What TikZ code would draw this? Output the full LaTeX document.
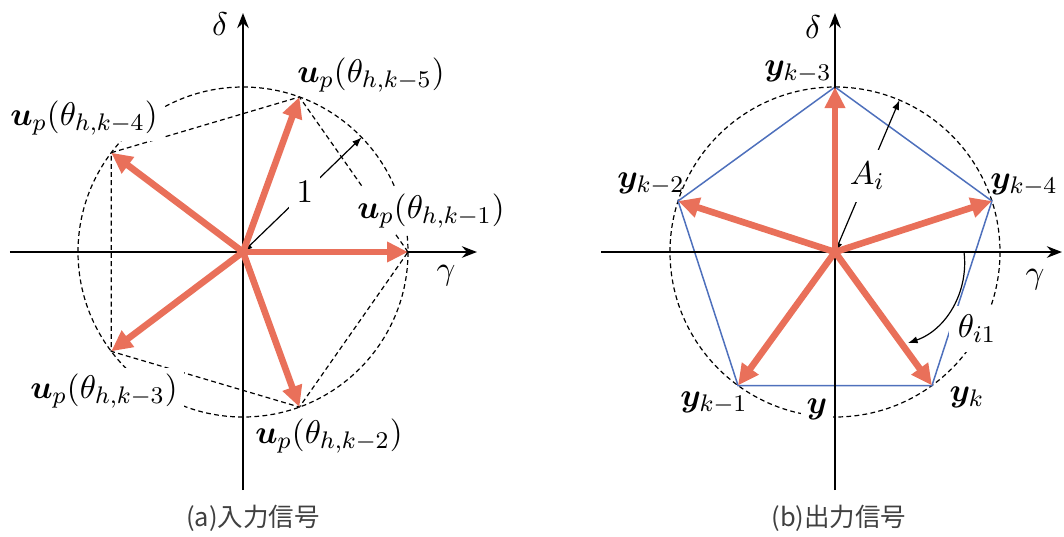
\documentclass[tikz,border=0pt]{standalone}
\usepackage{fontspec}
\usepackage{amsmath}
\usepackage{bm}
\usetikzlibrary{arrows.meta,calc}
\newfontfamily\cjk{Noto Sans CJK JP}
\definecolor{coral}{RGB}{233,112,90}
\definecolor{pentblue}{RGB}{78,112,188}
\tikzset{
  axis/.style={line width=0.9pt,-{Stealth[length=5pt,width=3.8pt]}},
  vec/.style={coral,line width=2.2pt,-{Triangle[length=7pt,width=6.5pt]}},
  dashcirc/.style={line width=0.4pt,dash pattern=on 1.6pt off 1.1pt},
  dim/.style={line width=0.4pt,{Latex[length=3.2pt,width=2.4pt]}-{Latex[length=3.2pt,width=2.4pt]}},
  pent/.style={pentblue,line width=0.5pt},
  lbl/.style={font=\fontsize{11}{13}\selectfont,inner sep=1pt},
  mask/.style={fill=white,inner sep=2pt},
  captext/.style={font=\cjk\fontsize{8.5}{10}\selectfont,text=black!75}
}
\begin{document}
\begin{tikzpicture}[x=0.33333pt,y=-0.33333pt]
\useasboundingbox (0,0) rectangle (1064,536);
\def\R{165}
% ---------------- left panel ----------------
\coordinate (O1) at (243,252);
\coordinate (a1) at ($(O1)+(0:\R)$);
\coordinate (a5) at ($(O1)+(-70:\R)$);
\coordinate (a4) at ($(O1)+(-143:\R)$);
\coordinate (a3) at ($(O1)+(-217:\R)$);
\coordinate (a2) at ($(O1)+(-290:\R)$);
\coordinate (r1) at ($(O1)+(-44:\R)$);
\coordinate (xl0) at (10,252);
\coordinate (xl1) at (477,252);
\coordinate (yl0) at (243,490);
\coordinate (yl1) at (243,13);

\draw[dashcirc] (O1) circle[radius=\R];
\draw[dashcirc] (a1) -- (a5) -- (a4) -- (a3) -- (a2) -- cycle;

\node[lbl,mask] (l4) at (84,118) {$\bm{u}_p(\theta_{h,k-4})$};
\node[lbl,mask] (l1) at (431,211) {$\bm{u}_p(\theta_{h,k-1})$};
\node[lbl,mask] (l3) at (104,391) {$\bm{u}_p(\theta_{h,k-3})$};

\draw[axis] (xl0) -- (xl1);
\draw[axis] (yl0) -- (yl1);

\draw[dim] (O1) -- (r1) node[lbl,fill=white,inner sep=2.5pt,pos=0.52] (one) {$1$};

\foreach \p in {a1,a2,a3,a4,a5} \draw[vec] (O1) -- (\p);

\node[lbl] (l5) at (371,75) {$\bm{u}_p(\theta_{h,k-5})$};
\node[lbl] (l2) at (329,436) {$\bm{u}_p(\theta_{h,k-2})$};
\node[lbl] (d1) at (220,24) {$\delta$};
\node[lbl] (g1) at (446,276) {$\gamma$};
\node[captext] (capa) at (253,518) {(a)入力信号};

% ---------------- right panel ----------------
\coordinate (O2) at (835,252);
\coordinate (b3) at ($(O2)+(-90:\R)$);
\coordinate (b4) at ($(O2)+(-18:\R)$);
\coordinate (b2) at ($(O2)+(-162:\R)$);
\coordinate (b1) at ($(O2)+(-234:\R)$);
\coordinate (b0) at ($(O2)+(-306:\R)$);
\coordinate (r2) at ($(O2)+(-67:\R)$);
\coordinate (xr0) at (601,252);
\coordinate (xr1) at (1062,252);
\coordinate (yr0) at (835,490);
\coordinate (yr1) at (835,13);
\coordinate (t0) at (964,252);
\coordinate (t1) at (969,292);
\coordinate (t2) at (946,330);
\coordinate (t3) at (908,343);

\draw[dashcirc] (O2) circle[radius=\R];
\draw[pent] (b3) -- (b4) -- (b0) -- (b1) -- (b2) -- cycle;

\node[lbl,mask,inner sep=3pt] (th) at (977,329) {$\theta_{i1}$};
\node[lbl,mask] (yy) at (817,409) {$\bm{y}$};

\draw[axis] (xr0) -- (xr1);
\draw[axis] (yr0) -- (yr1);

\draw[dim] (O2) -- (r2) node[lbl,fill=white,inner sep=4pt,pos=0.5] (ai) {$A_i$};
\draw[line width=0.4pt,-{Latex[length=3.2pt,width=2.4pt]}] (t0) .. controls (t1) and (t2) .. (t3);

\foreach \p in {b0,b1,b2,b3,b4} \draw[vec] (O2) -- (\p);

\node[lbl] (y3) at (798,72) {$\bm{y}_{k-3}$};
\node[lbl] (y2) at (651,184) {$\bm{y}_{k-2}$};
\node[lbl] (y4) at (1024,185) {$\bm{y}_{k-4}$};
\node[lbl] (y1) at (714,403) {$\bm{y}_{k-1}$};
\node[lbl] (y0) at (967,397) {$\bm{y}_{k}$};
\node[lbl] (d2) at (813,27) {$\delta$};
\node[lbl] (g2) at (1035,280) {$\gamma$};
\node[captext] (capb) at (839,518) {(b)出力信号};
\end{tikzpicture}
\end{document}
